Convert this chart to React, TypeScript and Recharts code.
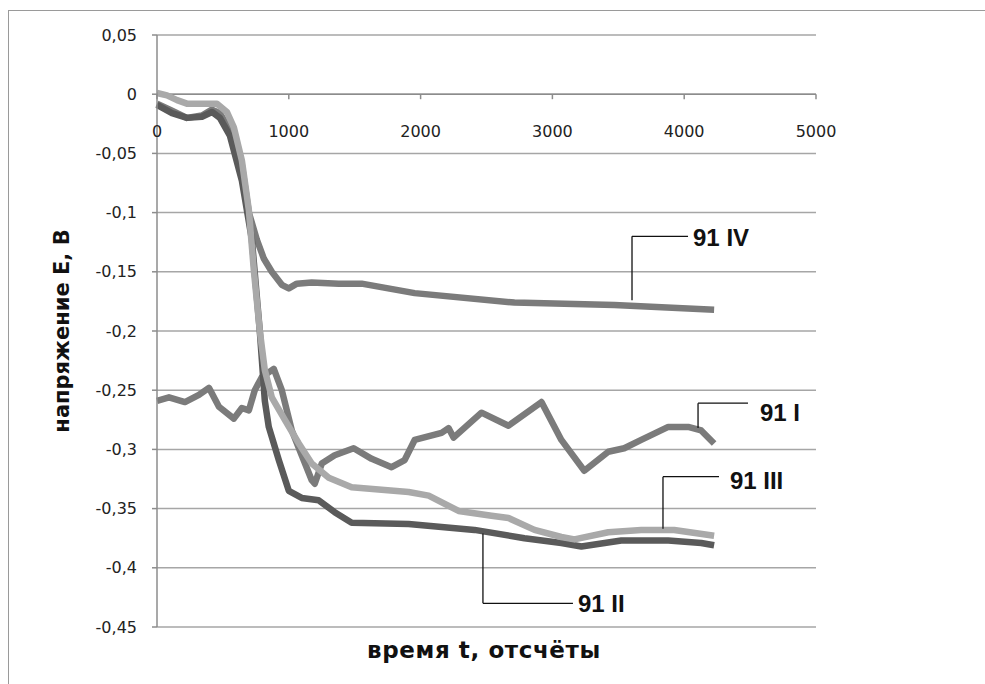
import { LineChart, Line, XAxis, YAxis, CartesianGrid, ReferenceLine, ReferenceDot, Label } from 'recharts'

// axis ticks
const xTicks = [0, 1000, 2000, 3000, 4000, 5000]
const yTicks = [0.05, 0, -0.05, -0.1, -0.15, -0.2, -0.25, -0.3, -0.35, -0.4, -0.45]
const yTickLabels = ['0,05', '0', '-0,05', '-0,1', '-0,15', '-0,2', '-0,25', '-0,3', '-0,35', '-0,4', '-0,45']

// 91 I
const tI = [0, 91, 212, 318, 394, 470, 583, 644, 697, 742, 795, 886, 947, 1023, 1098, 1174, 1197, 1250, 1348, 1492, 1629, 1780, 1879, 1955, 2159, 2212, 2250, 2462, 2667, 2917, 3068, 3242, 3424, 3545, 3674, 3879, 4030, 4129, 4227]
const vI = [-0.259, -0.256, -0.26, -0.254, -0.248, -0.264, -0.274, -0.265, -0.267, -0.25, -0.239, -0.232, -0.25, -0.284, -0.305, -0.326, -0.329, -0.312, -0.305, -0.299, -0.308, -0.315, -0.309, -0.292, -0.286, -0.282, -0.29, -0.269, -0.28, -0.26, -0.292, -0.318, -0.302, -0.299, -0.292, -0.281, -0.281, -0.284, -0.295]

// 91 II
const tII = [0, 114, 227, 341, 417, 477, 553, 644, 720, 780, 818, 848, 924, 1000, 1098, 1227, 1348, 1477, 1909, 2409, 2788, 3068, 3220, 3523, 3879, 4129, 4227]
const vII = [-0.009, -0.016, -0.02, -0.019, -0.015, -0.02, -0.035, -0.073, -0.123, -0.2, -0.259, -0.281, -0.309, -0.335, -0.341, -0.343, -0.353, -0.362, -0.363, -0.368, -0.375, -0.379, -0.382, -0.377, -0.377, -0.379, -0.381]

// 91 III
const tIII = [0, 76, 152, 227, 341, 455, 530, 583, 644, 697, 735, 780, 818, 871, 970, 1076, 1174, 1303, 1477, 1909, 2061, 2288, 2538, 2667, 2864, 3068, 3167, 3424, 3674, 3924, 4227]
const vIII = [0.001, -0.001, -0.005, -0.008, -0.008, -0.008, -0.015, -0.028, -0.056, -0.098, -0.149, -0.2, -0.233, -0.256, -0.275, -0.295, -0.312, -0.324, -0.332, -0.336, -0.339, -0.352, -0.356, -0.358, -0.368, -0.374, -0.376, -0.37, -0.368, -0.368, -0.373]

// 91 IV
const tIV = [0, 114, 227, 341, 417, 477, 553, 644, 697, 758, 811, 871, 947, 1000, 1061, 1174, 1379, 1553, 1955, 2712, 3470, 4227]
const vIV = [-0.008, -0.014, -0.02, -0.018, -0.013, -0.016, -0.03, -0.06, -0.1, -0.123, -0.139, -0.15, -0.161, -0.164, -0.16, -0.159, -0.16, -0.16, -0.168, -0.176, -0.178, -0.182]

// callouts: leader line points and text anchor, in data units
const callouts = [
  { text: '91 IV', pts: [[3604, -0.174], [3604, -0.12], [4029, -0.12]], at: [4067, -0.121] },
  { text: '91 I', pts: [[4105, -0.282], [4105, -0.261], [4484, -0.261]], at: [4575, -0.269] },
  { text: '91 III', pts: [[3839, -0.367], [3839, -0.323], [4264, -0.323]], at: [4347, -0.326] },
  { text: '91 II', pts: [[2473, -0.371], [2473, -0.43], [3156, -0.43]], at: [3194, -0.43] },
]

const toRows = (t: number[], v: number[]) => t.map((x, i) => ({ t: x, v: v[i] }))

const W = 985
const H = 684
const TOP = 35
const PLOT_H = 592
const Y_MAX = 0.05
const Y_MIN = -0.45
const ZERO_Y = TOP + (PLOT_H * Y_MAX) / (Y_MAX - Y_MIN)

const tickFont = "'DejaVu Sans', sans-serif"
const titleFont = "'DejaVu Sans', sans-serif"

function XTick({ x, payload }: any) {
  return (
    <g>
      <line x1={x} x2={x} y1={ZERO_Y} y2={ZERO_Y + 5} stroke="#8c8c8c" strokeWidth={1.5} />
      <text x={x} y={ZERO_Y + 37} textAnchor="middle" dominantBaseline="central" fontSize={16} fontFamily={tickFont} fill="#222">
        {payload.value}
      </text>
    </g>
  )
}

const yTitle = () => (
  <text
    x={62}
    y={TOP + PLOT_H / 2}
    transform={`rotate(-90, 62, ${TOP + PLOT_H / 2})`}
    textAnchor="middle"
    dominantBaseline="central"
    fontSize={21}
    fontWeight="bold"
    fontFamily={titleFont}
    fill="#111"
  >
    напряжение E, В
  </text>
)

const xTitle = () => (
  <text x={484} y={650} textAnchor="middle" dominantBaseline="central" fontSize={23} fontWeight="bold" fontFamily={titleFont} fill="#111" letterSpacing={0.6}>
    время t, отсчёты
  </text>
)

const lineProps = { dataKey: 'v', strokeWidth: 6.5, dot: false, isAnimationActive: false, strokeLinejoin: 'round' as const }

export default function App() {
  return (
    <div style={{ position: 'absolute', left: 0, top: 0, width: W, height: H, overflow: 'hidden', background: '#fff' }}>
      <div style={{ position: 'absolute', left: 8, top: 10, width: 1000, height: 690, border: '1px solid #9a9a9a' }} />
      <div style={{ position: 'absolute', left: 0, top: 0 }}>
        <LineChart width={W} height={H} data={toRows(tI, vI)} margin={{ top: TOP, right: 169, bottom: 11, left: 40 }}>
          <CartesianGrid vertical={false} stroke="#a6a6a6" strokeWidth={1.5} />
          <XAxis
            type="number"
            dataKey="t"
            domain={[0, 5000]}
            ticks={xTicks}
            tick={<XTick />}
            tickLine={false}
            axisLine={false}
            height={46}
            interval={0}
            label={<Label content={xTitle} />}
          />
          <YAxis
            type="number"
            domain={[Y_MIN, Y_MAX]}
            ticks={yTicks}
            tickFormatter={(v: number) => yTickLabels[yTicks.findIndex((y) => Math.abs(y - v) < 1e-9)] ?? ''}
            tick={{ fontSize: 16, fontFamily: tickFont, fill: '#222' }}
            tickSize={5}
            tickMargin={15}
            tickLine={{ stroke: '#8c8c8c', strokeWidth: 1.5 }}
            axisLine={{ stroke: '#8c8c8c', strokeWidth: 1.5 }}
            width={117}
            interval={0}
            label={<Label content={yTitle} />}
          />
          <ReferenceLine y={0} stroke="#8c8c8c" strokeWidth={1.5} />
          <Line {...lineProps} data={toRows(tI, vI)} stroke="#7b7b7b" />
          <Line {...lineProps} data={toRows(tIV, vIV)} stroke="#7b7b7b" />
          <Line {...lineProps} data={toRows(tII, vII)} stroke="#5a5a5a" />
          <Line {...lineProps} data={toRows(tIII, vIII)} stroke="#a9a9a9" />
          {callouts.map((c) =>
            c.pts.slice(1).map((p, i) => (
              <ReferenceLine
                key={c.text + i}
                segment={[{ x: c.pts[i][0], y: c.pts[i][1] }, { x: p[0], y: p[1] }]}
                stroke="#111"
                strokeWidth={1.3}
              />
            ))
          )}
          {callouts.map((c) => (
            <ReferenceDot
              key={c.text}
              x={c.at[0]}
              y={c.at[1]}
              r={0}
              stroke="none"
              fill="none"
              label={{ value: c.text, position: 'right', offset: 0, fontSize: 24, fontWeight: 'bold', fontFamily: "'Liberation Sans', Arial, sans-serif", fill: '#111' }}
            />
          ))}
        </LineChart>
      </div>
    </div>
  )
}
